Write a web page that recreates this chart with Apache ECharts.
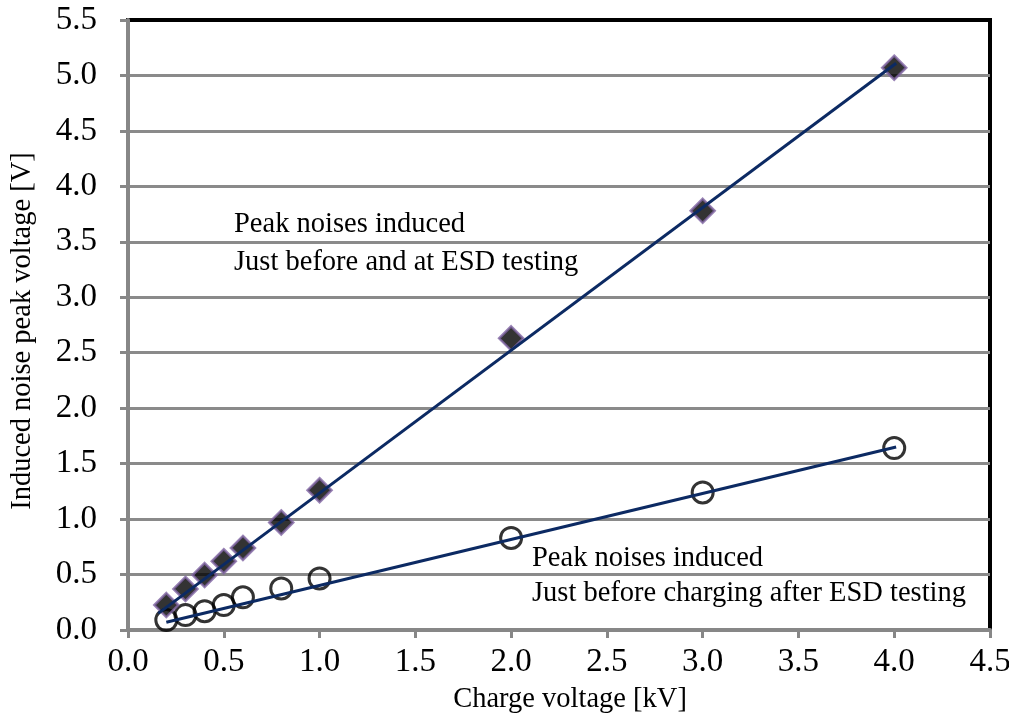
<!DOCTYPE html>
<html>
<head>
<meta charset="utf-8">
<script src="https://cdn.jsdelivr.net/npm/echarts@6/dist/echarts.min.js"></script>
<style>
html,body{margin:0;padding:0;background:#fff;}
#chart{width:1009px;height:727px;}
</style>
</head>
<body>
<div id="chart"></div>
<script>
const chargeVoltage = [0.2, 0.3, 0.4, 0.5, 0.6, 0.8, 1.0, 2.0, 3.0, 4.0];
const noiseAtTesting = [0.225, 0.37, 0.495, 0.62, 0.74, 0.97, 1.26, 2.63, 3.78, 5.07];
const noiseBeforeCharging = [0.09, 0.135, 0.17, 0.225, 0.295, 0.375, 0.465, 0.83, 1.24, 1.64];
const trendAtTesting = [[0.158, 0.15], [4.01, 5.11]];
const trendBeforeCharging = [[0.2, 0.07], [4.01, 1.65]];
const xTicks = { min: 0, max: 4.5, interval: 0.5 };
const yTicks = { min: 0, max: 5.5, interval: 0.5 };
const annotationA = ['Peak noises induced', 'Just before and at ESD testing'];
const annotationB = ['Peak noises induced', 'Just before charging after ESD testing'];
const xTitle = 'Charge voltage [kV]';
const yTitle = 'Induced noise peak voltage [V]';

const FONT = '"Liberation Serif", "Times New Roman", serif';
const chart = echarts.init(document.getElementById('chart'), null, { renderer: 'canvas' });

const pairs = (xs, ys) => xs.map((x, i) => [x, ys[i]]);

chart.setOption({
  animation: false,
  backgroundColor: '#fff',
  grid: {
    left: 128, right: 19, top: 20, bottom: 97,
    containLabel: false, outerBoundsMode: 'none',
    show: true, borderColor: '#000', borderWidth: 4, backgroundColor: 'transparent'
  },
  xAxis: {
    type: 'value', min: xTicks.min, max: xTicks.max, interval: xTicks.interval,
    axisLine: { show: true, onZero: false, lineStyle: { color: '#878787', width: 4 } },
    axisTick: { show: true, inside: false, length: 8, lineStyle: { color: '#878787', width: 3 } },
    axisLabel: { color: '#000', fontFamily: FONT, fontSize: 33, margin: 16,
      formatter: v => v.toFixed(1) },
    splitLine: { show: false }
  },
  yAxis: {
    type: 'value', min: yTicks.min, max: yTicks.max, interval: yTicks.interval,
    axisLine: { show: true, onZero: false, lineStyle: { color: '#878787', width: 4 } },
    axisTick: { show: true, inside: false, length: 8, lineStyle: { color: '#878787', width: 3 } },
    axisLabel: { color: '#000', fontFamily: FONT, fontSize: 33, margin: 31,
      formatter: v => v.toFixed(1) },
    splitLine: { show: true, showMinLine: false, showMaxLine: false, lineStyle: { color: '#8a8a8a', width: 3 } }
  },
  graphic: [
    { type: 'text', left: 234, top: 206, z: 100,
      style: { text: annotationA.join('\n'), font: '28.5px ' + FONT, fill: '#000', lineHeight: 38 } },
    { type: 'text', left: 532, top: 541, z: 100,
      style: { text: annotationB.join('\n'), font: '28.5px ' + FONT, fill: '#000', lineHeight: 35 } },
    { type: 'text', x: 570, y: 700, z: 100,
      style: { text: xTitle, font: '28.5px ' + FONT, fill: '#000', align: 'center', verticalAlign: 'middle' } },
    { type: 'text', x: 23, y: 331, rotation: Math.PI / 2, z: 100,
      style: { text: yTitle, font: '28.5px ' + FONT, fill: '#000', align: 'center', verticalAlign: 'middle' } }
  ],
  series: [
    {
      name: 'before charging', type: 'scatter', data: pairs(chargeVoltage, noiseBeforeCharging),
      symbol: 'circle', symbolSize: 21, z: 2,
      itemStyle: { color: 'transparent', borderColor: '#000', borderWidth: 3 }
    },
    {
      name: 'at testing', type: 'scatter', data: pairs(chargeVoltage, noiseAtTesting),
      symbol: 'diamond', symbolSize: 24, z: 3,
      itemStyle: { color: '#000', borderColor: '#8064a2', borderWidth: 2.5 }
    },
    {
      name: 'trend before', type: 'line', data: trendBeforeCharging, showSymbol: false, z: 4,
      lineStyle: { color: '#0c2a63', width: 3 }
    },
    {
      name: 'trend at', type: 'line', data: trendAtTesting, showSymbol: false, z: 4,
      lineStyle: { color: '#0c2a63', width: 3 }
    }
  ]
});
</script>
</body>
</html>
